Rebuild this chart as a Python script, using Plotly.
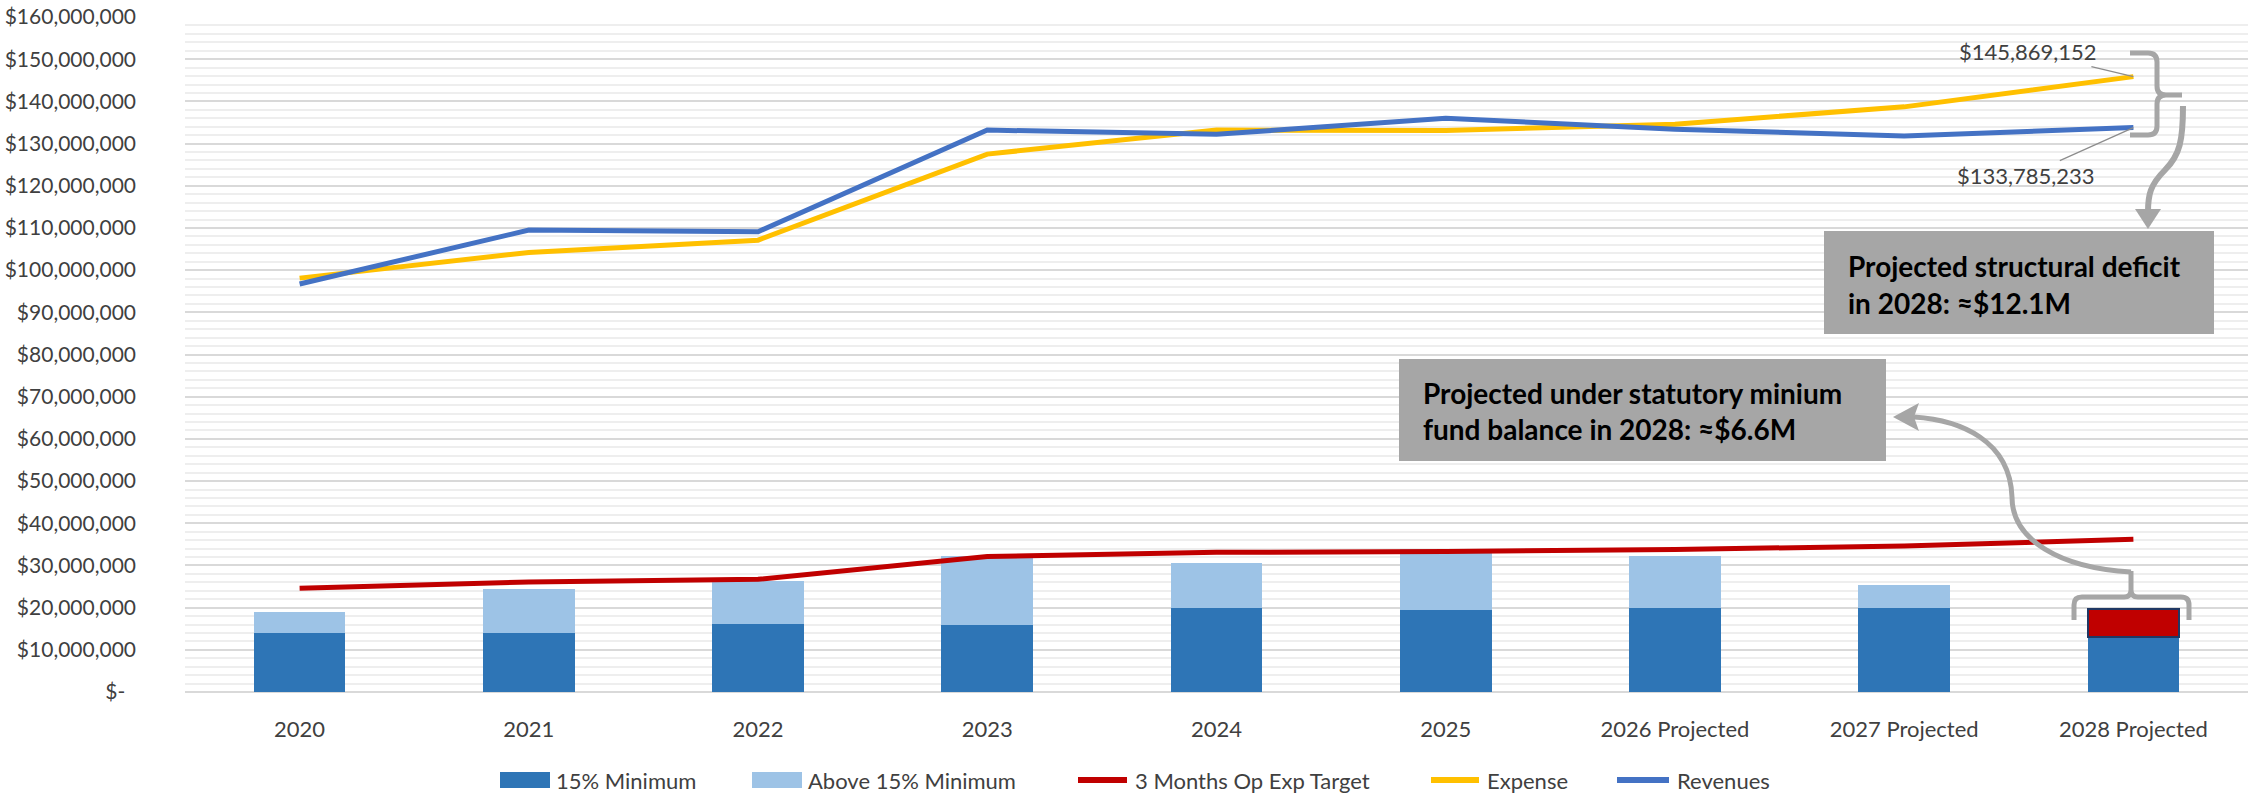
import plotly.graph_objects as go

categories = ["2020", "2021", "2022", "2023", "2024", "2025",
              "2026 Projected", "2027 Projected", "2028 Projected"]
min_15 = [14.0e6, 14.1e6, 16.2e6, 15.9e6, 19.8e6, 19.4e6, 19.8e6, 19.8e6, 13.1e6]
above_15 = [5.0e6, 10.2e6, 10.2e6, 16.4e6, 10.7e6, 14.6e6, 12.4e6, 5.6e6, None]
shortfall = [None, None, None, None, None, None, None, None, 6.6e6]
target_3mo = [24.6e6, 26.1e6, 26.7e6, 32.1e6, 33.1e6, 33.3e6, 33.8e6, 34.6e6, 36.2e6]
expense = [98.1e6, 104.2e6, 107.1e6, 127.5e6, 133.2e6, 133.1e6, 134.6e6, 138.7e6, 145869152]
revenues = [96.7e6, 109.5e6, 109.1e6, 133.2e6, 132.2e6, 136.0e6, 133.4e6, 131.8e6, 133785233]

y_tickvals = [i * 10e6 for i in range(17)]
y_ticktext = ["$-\u00a0\u00a0"] + [f"${v:,.0f}" for v in y_tickvals[1:]]

box1_lines = ["Projected structural deficit", "in 2028: \u2248$12.1M"]
box2_lines = ["Projected under statutory minium", "fund balance in 2028: \u2248$6.6M"]

legend_names = ["15% Minimum", "Above 15% Minimum", "3 Months Op Exp Target", "Expense", "Revenues"]
legend_colors = ["#2e75b6", "#9dc3e6", "#c00000", "#ffc000", "#4472c4"]
legend_kinds = ["bar", "bar", "line", "line", "line"]

FONT = "Lato"
GRAY = "#a6a6a6"
TXT = "#404040"

# plot-area geometry (pixels) used for decorations
W, H = 2260, 795
L, R, T, B = 185, 2248, 17, 692


def px(x):
    return (x - L) / (R - L)


def py(y):
    return (B - y) / (B - T)


def path(cmds):
    out = []
    for c in cmds:
        if isinstance(c, str):
            out.append(c)
        else:
            out.append(f"{px(c[0]):.5f},{py(c[1]):.5f}")
    return " ".join(out)


fig = go.Figure()
fig.add_bar(x=categories, y=min_15, name=legend_names[0], marker_color=legend_colors[0],
            marker_line_width=0)
fig.add_bar(x=categories, y=above_15, name=legend_names[1], marker_color=legend_colors[1],
            marker_line_width=0)
fig.add_bar(x=categories, y=shortfall, name="Shortfall",
            marker_color="#c00000", marker_line_color="#203864", marker_line_width=2)
fig.add_scatter(x=categories, y=target_3mo, name=legend_names[2], mode="lines",
                line=dict(color=legend_colors[2], width=5))
fig.add_scatter(x=categories, y=expense, name=legend_names[3], mode="lines",
                line=dict(color=legend_colors[3], width=5))
fig.add_scatter(x=categories, y=revenues, name=legend_names[4], mode="lines",
                line=dict(color=legend_colors[4], width=5))

shapes = []
line_style = dict(color=GRAY, width=5)
# brace around 2028 expense/revenue gap
shapes.append(dict(type="path", xref="paper", yref="paper", line=line_style,
                   path=path(["M", (2130, 53), "L", (2148, 53), "Q", (2157, 53), (2157, 62),
                              "L", (2157, 86), "Q", (2157, 95), (2166, 95), "L", (2182, 95),
                              "M", (2166, 95), "Q", (2157, 95), (2157, 104), "L", (2157, 126),
                              "Q", (2157, 135), (2148, 135), "L", (2130, 135)])))
# arrow from brace down to box 1
shapes.append(dict(type="path", xref="paper", yref="paper", line=dict(color=GRAY, width=6),
                   path=path(["M", (2183, 106), "C", (2183, 140), (2180, 155), (2165, 170),
                              "C", (2150, 185), (2148, 195), (2148, 212)])))
shapes.append(dict(type="path", xref="paper", yref="paper", line=dict(width=0),
                   fillcolor=GRAY,
                   path=path(["M", (2135, 209), "L", (2161, 209), "L", (2148, 229), "Z"])))
# bracket over 2028 bar
shapes.append(dict(type="path", xref="paper", yref="paper", line=line_style,
                   path=path(["M", (2074, 620), "L", (2074, 605), "Q", (2074, 597), (2082, 597),
                              "L", (2124, 597), "Q", (2131, 597), (2131, 590), "L", (2131, 571),
                              "M", (2131, 590), "Q", (2131, 597), (2138, 597),
                              "L", (2181, 597), "Q", (2189, 597), (2189, 605), "L", (2189, 620)])))
# curved arrow to box 2
shapes.append(dict(type="path", xref="paper", yref="paper", line=line_style,
                   path=path(["M", (2131, 572), "C", (2060, 568), (2012, 540), (2012, 497),
                              "C", (2010, 440), (1960, 420), (1914, 417)])))
shapes.append(dict(type="path", xref="paper", yref="paper", line=dict(width=0),
                   fillcolor=GRAY,
                   path=path(["M", (1893, 417), "L", (1919, 403), "L", (1914, 417),
                              "L", (1919, 431), "Z"])))
# gray boxes
shapes.append(dict(type="rect", xref="paper", yref="paper", line=dict(width=0),
                   fillcolor=GRAY, layer="above",
                   x0=px(1824), x1=px(2214), y0=py(334), y1=py(231)))
shapes.append(dict(type="rect", xref="paper", yref="paper", line=dict(width=0),
                   fillcolor=GRAY, layer="above",
                   x0=px(1399), x1=px(1886), y0=py(461), y1=py(359)))

annotations = []
for i, t in enumerate(box1_lines):
    annotations.append(dict(xref="paper", yref="paper", x=px(1846), y=py(266 + 37 * i),
                            xanchor="left", yanchor="middle", showarrow=False, text=t,
                            font=dict(family=FONT, size=28, color="#000000", weight="bold")))
for i, t in enumerate(box2_lines):
    annotations.append(dict(xref="paper", yref="paper", x=px(1421), y=py(393 + 36 * i),
                            xanchor="left", yanchor="middle", showarrow=False, text=t,
                            font=dict(family=FONT, size=28, color="#000000", weight="bold")))

annotations.append(dict(x=categories[-1], y=expense[-1], text=f"${expense[-1]:,.0f}",
                        showarrow=True, arrowhead=0, arrowwidth=1.2, arrowcolor="#8c8c8c",
                        ax=-105, ay=-25, font=dict(family=FONT, size=22, color=TXT)))
annotations.append(dict(x=categories[-1], y=revenues[-1], text=f"${revenues[-1]:,.0f}",
                        showarrow=True, arrowhead=0, arrowwidth=1.2, arrowcolor="#8c8c8c",
                        ax=-107, ay=48, font=dict(family=FONT, size=22, color=TXT)))

# custom legend (keys drawn as wide Excel-style swatches)
legend_key_x = [500, 752, 1076, 1429, 1615]
legend_key_w = [50, 50, 53, 52, 56]
LEG_Y = 780
for name, color, kind, kx, kw in zip(legend_names, legend_colors, legend_kinds,
                                     legend_key_x, legend_key_w):
    if kind == "bar":
        shapes.append(dict(type="rect", xref="paper", yref="paper", line=dict(width=0),
                           fillcolor=color, x0=px(kx), x1=px(kx + kw),
                           y0=py(LEG_Y + 8), y1=py(LEG_Y - 8)))
    else:
        shapes.append(dict(type="line", xref="paper", yref="paper",
                           line=dict(color=color, width=6),
                           x0=px(kx + 2), x1=px(kx + kw - 2), y0=py(LEG_Y), y1=py(LEG_Y)))
    annotations.append(dict(xref="paper", yref="paper", x=px(kx + kw + 4), y=py(LEG_Y),
                            xanchor="left", yanchor="middle", showarrow=False, text=name,
                            font=dict(family=FONT, size=22, color=TXT)))

fig.update_layout(
    width=W, height=H,
    margin=dict(l=L, r=W - R, t=T, b=H - B, autoexpand=False),
    paper_bgcolor="white", plot_bgcolor="white",
    barmode="stack", bargap=0.6,
    font=dict(family=FONT, size=22, color=TXT),
    showlegend=False,
    shapes=shapes, annotations=annotations,
)
fig.update_xaxes(showgrid=False, showline=False, zeroline=False, ticks="", automargin=False,
                 ticklabelstandoff=22, tickfont=dict(family=FONT, size=22, color=TXT))
fig.update_yaxes(range=[0, 160e6], tickmode="array", tickvals=y_tickvals, ticktext=y_ticktext,
                 automargin=False,
                 showgrid=True, gridcolor="#d9d9d9", gridwidth=1.5,
                 zeroline=True, zerolinecolor="#d9d9d9", zerolinewidth=2,
                 minor=dict(dtick=2e6, tick0=0, showgrid=True, gridcolor="#eeeeee", gridwidth=1.5),
                 ticklabelstandoff=48, tickfont=dict(family=FONT, size=21, color=TXT))

fig.write_html("out.html", config={"displayModeBar": False},
               post_script="document.body.style.margin='0px';document.body.style.overflow='hidden';")
